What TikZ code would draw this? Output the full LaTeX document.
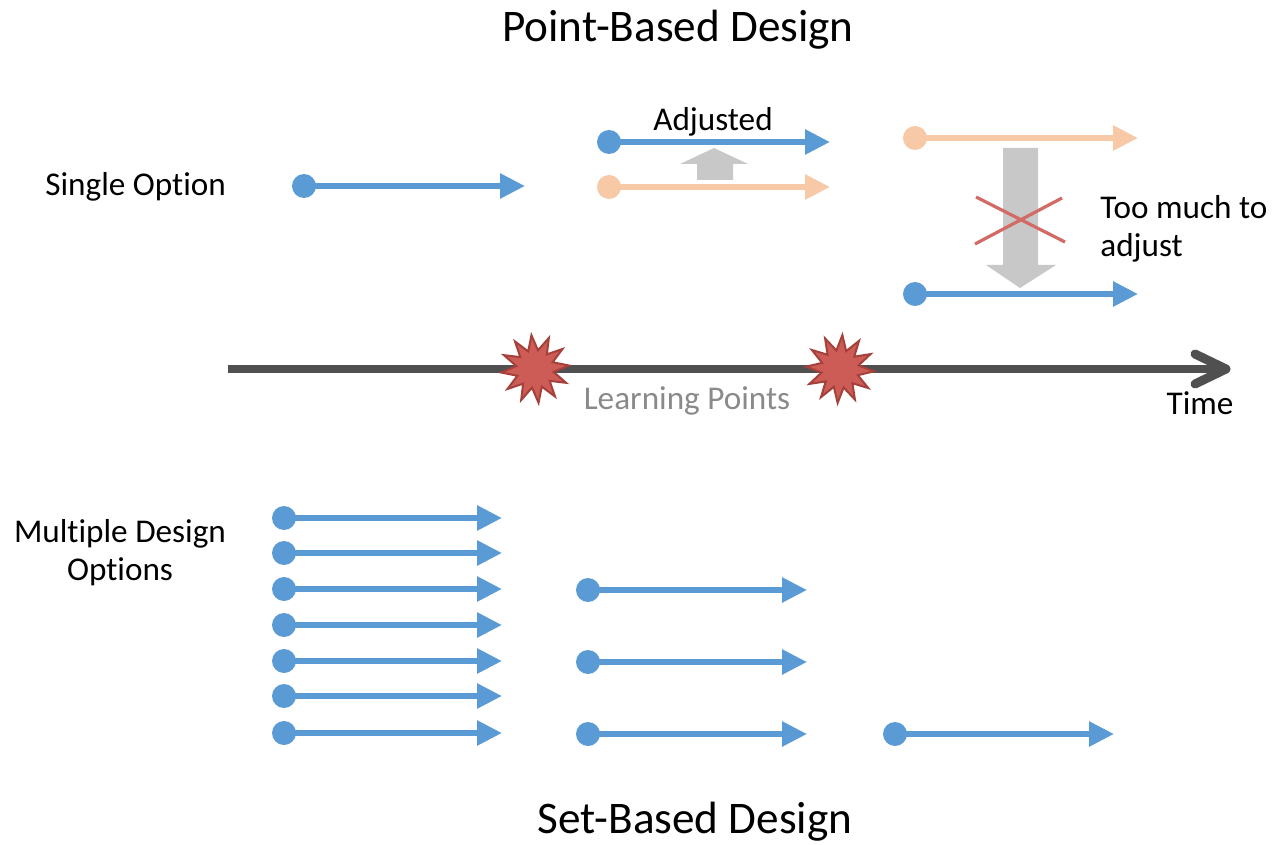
\documentclass[tikz,border=0pt]{standalone}
\usepackage{fontspec}
\setmainfont{Carlito}[Ligatures=NoCommon]
\usetikzlibrary{arrows.meta,shapes.geometric}

\definecolor{optblue}{HTML}{5B9BD5}
\definecolor{optorange}{HTML}{F8C9A6}
\definecolor{shiftgrey}{HTML}{C8C8C8}
\definecolor{axisgrey}{HTML}{505050}
\definecolor{burstfill}{HTML}{CD5C57}
\definecolor{burstline}{HTML}{A5403B}
\definecolor{crossred}{HTML}{D26A66}
\definecolor{notegrey}{HTML}{8A8A8A}

\tikzset{
  optdot/.style={circle, fill=#1, inner sep=0pt, minimum size=12pt},
  optline/.style={draw=#1, line width=2.9pt, -{Triangle[length=12.5pt,width=12pt]}},
  txt/.style={font=\fontsize{16.6}{19}\selectfont, inner sep=0pt},
  heading/.style={font=\fontsize{22.6}{26}\selectfont, inner sep=0pt},
  burst/.style={star, star points=12, star point ratio=1.8, minimum size=34pt,
    inner sep=0pt, fill=burstfill, draw=burstline, line width=1pt},
}

% design option: dot, line and arrow head
% #1 name, #2 start x, #3 end x, #4 y, #5 colour
\newcommand\optarrow[5]{%
  \node[optdot=#5] (#1s) at (#2,#4) {};
  \coordinate (#1e) at (#3,#4);
  \draw[optline=#5] (#1s.center) -- (#1e);
}

\begin{document}
\begin{tikzpicture}[x=0.5pt,y=-0.5pt]
\useasboundingbox (0,0) rectangle (1274,845);

% headings
\node[heading] (pbd) at (678,30) {Point-Based Design};
\node[heading] (sbd) at (695,822) {Set-Based Design};

% point-based: single option
\node[txt, anchor=west] (single) at (45,187) {Single Option};
\optarrow{p1}{304}{525}{186}{optblue}

% adjusted option
\optarrow{p2}{609}{830}{142}{optblue}
\optarrow{p3}{609}{830}{187}{optorange}
\node[txt] (adj) at (713,122) {Adjusted};
\fill[shiftgrey] (697,180) -- (697,164) -- (680,164) -- (714,148) -- (748,164)
  -- (733,164) -- (733,180) -- cycle;

% too much to adjust
\optarrow{p4}{915}{1138}{138}{optorange}
\optarrow{p5}{915}{1138}{294}{optblue}
\fill[shiftgrey] (1003,148) -- (1038,148) -- (1038,265) -- (1056,265) -- (1020,288)
  -- (986,265) -- (1003,265) -- cycle;
\draw[crossred, line width=1.6pt] (976,197) -- (1065,242) (975,244) -- (1062,198);
\node[txt, anchor=west, align=left] (toomuch) at (1100,229)
  {Too much to\\adjust};

% time axis
\coordinate (t0) at (228,369);
\coordinate (t1) at (1226,369);
\draw[axisgrey, line width=4pt] (t0) -- ([xshift=-2pt]t1);
\draw[axisgrey, line width=4.5pt, line cap=round, line join=round]
  ([shift={(-31,-15)}]t1) -- (t1) -- ([shift={(-31,15)}]t1);
\node[txt] (time) at (1200,403) {Time};

% learning points
\node[burst, rotate=6] (lp1) at (535,369) {};
\node[burst, rotate=-4] (lp2) at (840,369) {};
\node[txt, text=notegrey] (lpt) at (687,401) {Learning Points};

% set-based: multiple options narrowed over time
\node[txt, align=center] (multi) at (120,553) {Multiple Design\\Options};
\optarrow{a1}{284}{502}{518}{optblue}
\optarrow{a2}{284}{502}{553}{optblue}
\optarrow{a3}{284}{502}{589}{optblue}
\optarrow{a4}{284}{502}{625}{optblue}
\optarrow{a5}{284}{502}{661}{optblue}
\optarrow{a6}{284}{502}{696}{optblue}
\optarrow{a7}{284}{502}{733}{optblue}
\optarrow{b1}{588}{807}{590}{optblue}
\optarrow{b2}{588}{807}{662}{optblue}
\optarrow{b3}{588}{807}{734}{optblue}
\optarrow{c1}{895}{1114}{734}{optblue}

\end{tikzpicture}
\end{document}
